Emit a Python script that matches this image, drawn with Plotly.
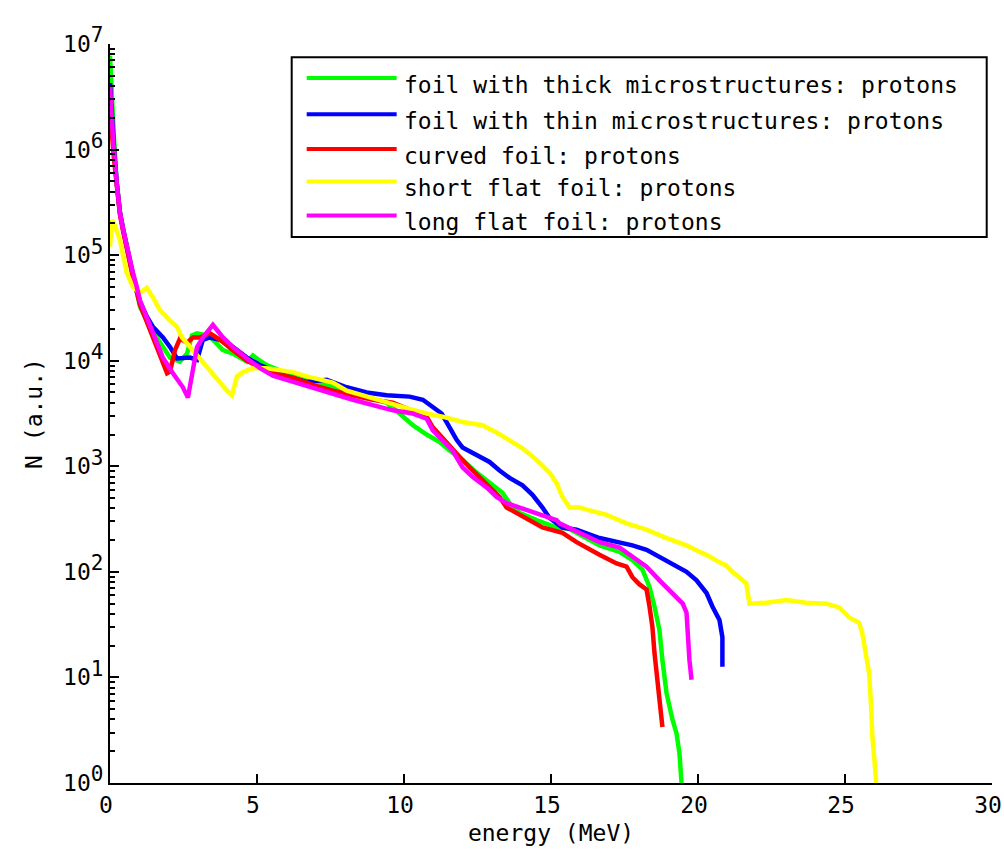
import plotly.graph_objects as go

# ---------------- data ----------------
series_names = [
    "foil with thick microstructures: protons",
    "foil with thin microstructures: protons",
    "curved foil: protons",
    "short flat foil: protons",
    "long flat foil: protons",
]
series_colors = ["#00ff00", "#0000ff", "#ff0000", "#ffff00", "#ff00ff"]

E_thick = [0.0, 0.05, 0.14, 0.23, 0.34, 0.45, 0.57, 0.68, 0.78, 0.91, 1.02, 1.36, 1.70, 2.04, 2.38,
           2.62, 2.79, 2.96, 3.30, 3.50, 3.84, 4.18, 4.66, 4.86, 5.10, 5.33, 6.01, 6.69, 7.37, 8.05,
           8.73, 9.41, 9.85, 10.30, 10.77, 11.21, 11.55, 11.99, 12.47, 12.91, 13.35, 13.59, 13.93,
           14.51, 15.19, 15.60, 15.97, 16.65, 17.33, 17.77, 18.11, 18.35, 18.52, 18.69, 18.79, 18.93,
           19.13, 19.27, 19.37, 19.44]
N_thick = [7.76e6, 3.55e6, 1.23e6, 4.79e5, 2.51e5, 1.74e5, 1.15e5, 8.5e4, 6.3e4, 4.57e4, 3.24e4,
           2.09e4, 1.48e4, 1.07e4, 9.8e3, 1.17e4, 1.74e4, 1.82e4, 1.74e4, 1.58e4, 1.26e4, 1.17e4,
           9.8e3, 1.12e4, 1.0e4, 9.1e3, 7.6e3, 6.9e3, 5.9e3, 5.2e3, 4.6e3, 4.0e3, 3.16e3, 2.45e3,
           2.0e3, 1.70e3, 1.41e3, 1.15e3, 871, 692, 562, 447, 363, 309, 263, 257, 224, 178, 155, 129,
           105, 72, 47, 28, 14.5, 7.1, 4.0, 2.95, 1.9, 1.0]

E_thin = [0.0, 0.05, 0.14, 0.23, 0.34, 0.45, 0.57, 0.68, 0.78, 0.91, 1.02, 1.25, 1.46, 1.80, 2.04,
          2.28, 2.48, 2.72, 2.96, 3.16, 3.40, 3.74, 4.18, 4.66, 5.10, 5.54, 6.01, 6.69, 7.37, 8.05,
          8.73, 9.41, 10.19, 10.64, 10.98, 11.28, 11.55, 11.79, 11.99, 12.47, 12.91, 13.25, 13.59,
          14.03, 14.37, 14.71, 14.95, 15.39, 15.87, 16.65, 17.33, 17.77, 18.25, 18.69, 19.13, 19.61,
          19.95, 20.29, 20.49, 20.73, 20.83, 20.83]
N_thin = [4.27e6, 2.24e6, 1.0e6, 4.79e5, 2.51e5, 1.74e5, 1.17e5, 8.7e4, 6.6e4, 4.79e4, 3.63e4,
          2.63e4, 2.09e4, 1.66e4, 1.35e4, 1.05e4, 1.07e4, 1.07e4, 1.02e4, 1.58e4, 1.66e4, 1.58e4,
          1.35e4, 1.07e4, 9.1e3, 8.1e3, 7.1e3, 6.3e3, 6.6e3, 5.6e3, 5.0e3, 4.7e3, 4.57e3, 4.27e3,
          3.63e3, 3.16e3, 2.34e3, 1.78e3, 1.51e3, 1.29e3, 1.10e3, 912, 776, 661, 537, 407, 324, 263,
          251, 209, 191, 178, 162, 138, 120, 100, 83, 63, 47, 35, 24, 12.6]

E_curved = [0.0, 0.05, 0.14, 0.23, 0.34, 0.45, 0.57, 0.68, 0.78, 0.91, 1.02, 1.25, 1.46, 1.70, 1.94,
            2.04, 2.21, 2.38, 2.62, 2.82, 3.06, 3.40, 3.74, 4.18, 4.66, 5.10, 5.54, 6.22, 6.90, 7.58,
            8.26, 8.94, 9.62, 10.30, 10.77, 10.98, 11.45, 11.89, 12.23, 12.57, 12.91, 13.25, 13.49,
            13.83, 14.27, 14.71, 15.39, 15.87, 16.65, 17.23, 17.57, 17.77, 18.01, 18.25, 18.35, 18.45,
            18.52, 18.62, 18.69, 18.79]
N_curved = [3.16e6, 1.58e6, 7.9e5, 4.17e5, 2.40e5, 1.66e5, 1.12e5, 8.3e4, 6.2e4, 4.47e4, 3.39e4,
            2.34e4, 1.66e4, 1.12e4, 7.6e3, 7.9e3, 1.26e4, 1.62e4, 1.48e4, 1.66e4, 1.66e4, 1.82e4,
            1.58e4, 1.26e4, 1.0e4, 8.7e3, 7.6e3, 6.9e3, 5.9e3, 5.2e3, 4.7e3, 4.27e3, 4.0e3, 3.39e3,
            2.95e3, 2.34e3, 1.66e3, 1.23e3, 977, 794, 631, 513, 407, 363, 309, 263, 234, 191, 145,
            120, 112, 89, 76, 68, 47, 30, 17, 9.5, 6.2, 3.4]

E_short = [0.0, 0.07, 0.14, 0.34, 0.57, 0.78, 1.02, 1.25, 1.46, 1.70, 2.04, 2.28, 2.45, 2.72, 3.06,
           3.30, 3.64, 3.98, 4.15, 4.32, 4.52, 4.86, 5.33, 5.78, 6.22, 6.69, 7.14, 7.58, 8.05, 8.73,
           9.41, 10.09, 10.77, 11.31, 11.99, 12.67, 13.15, 13.59, 14.03, 14.51, 14.95, 15.19, 15.39,
           15.63, 15.97, 16.21, 16.89, 17.57, 18.25, 18.93, 19.61, 20.05, 20.29, 20.73, 20.96, 21.17,
           21.41, 21.64, 21.75, 22.32, 23.00, 23.68, 24.36, 24.80, 25.14, 25.48, 25.59, 25.72, 25.82,
           25.89, 25.93, 26.00, 26.06]
N_short = [1.2e5, 2.14e5, 2.0e5, 1.38e5, 6.8e4, 5.0e4, 4.37e4, 4.9e4, 3.98e4, 3.02e4, 2.40e4, 2.09e4,
           1.66e4, 1.35e4, 1.05e4, 8.7e3, 6.6e3, 5.2e3, 4.7e3, 7.1e3, 7.8e3, 8.5e3, 8.5e3, 8.1e3,
           7.8e3, 7.1e3, 6.6e3, 6.2e3, 5.2e3, 4.57e3, 3.98e3, 3.55e3, 3.16e3, 2.95e3, 2.63e3, 2.45e3,
           2.09e3, 1.78e3, 1.48e3, 1.15e3, 871, 692, 513, 407, 407, 389, 347, 288, 251, 209, 178,
           155, 145, 123, 115, 100, 89, 78, 50, 51, 54, 51, 50, 46, 37, 33, 26, 17, 11, 5.2, 2.75,
           1.66, 1.0]

E_long = [0.0, 0.05, 0.10, 0.23, 0.34, 0.45, 0.57, 0.68, 0.78, 0.91, 1.02, 1.25, 1.46, 1.80, 2.14,
          2.48, 2.65, 2.82, 2.96, 3.16, 3.50, 3.84, 4.18, 4.66, 5.10, 5.54, 6.22, 6.90, 7.58, 8.26,
          8.94, 9.62, 10.30, 10.77, 10.98, 11.31, 11.65, 11.99, 12.33, 12.81, 13.15, 13.49, 13.93,
          14.51, 15.19, 15.29, 15.97, 16.65, 17.33, 17.77, 18.25, 18.69, 19.13, 19.48, 19.61, 19.64,
          19.71, 19.78]
N_long = [3.98e6, 2.0e6, 1.32e6, 4.79e5, 2.51e5, 1.74e5, 1.20e5, 8.9e4, 6.8e4, 5.0e4, 3.72e4, 2.57e4,
          1.82e4, 1.07e4, 7.6e3, 5.6e3, 4.47e3, 8.7e3, 1.35e4, 1.66e4, 2.19e4, 1.66e4, 1.35e4,
          1.05e4, 8.5e3, 7.2e3, 6.3e3, 5.6e3, 4.9e3, 4.27e3, 3.8e3, 3.39e3, 3.16e3, 2.82e3, 2.19e3,
          1.78e3, 1.41e3, 977, 794, 631, 513, 447, 407, 363, 309, 288, 234, 191, 170, 138, 112, 83,
          63, 50, 41, 26, 14.5, 9.5]

series_E = [E_thick, E_thin, E_curved, E_short, E_long]
series_N = [N_thick, N_thin, N_curved, N_short, N_long]

x_ticks = [0, 5, 10, 15, 20, 25, 30]
y_ticks = [1, 10, 100, 1000, 1e4, 1e5, 1e6, 1e7]
y_ticktext = ["10<sup><span style='font-size:21px'>%d</span></sup>" % k for k in range(8)]
y_minor = [m * 10 ** k for k in range(7) for m in range(2, 10)]

FONT = "DejaVu Sans Mono"

fig = go.Figure()
for name, E, N, col in zip(series_names, series_E, series_N, series_colors):
    fig.add_trace(go.Scatter(x=E, y=N, mode="lines", name=name,
                             line=dict(color=col, width=4.5), showlegend=False))

# manual legend (box, line samples, labels) in paper coordinates
L_X0, L_X1, L_Y0, L_Y1 = 0.206, 0.994, 0.739, 0.982
fig.add_shape(type="rect", xref="paper", yref="paper", x0=L_X0, x1=L_X1, y0=L_Y0, y1=L_Y1,
              line=dict(color="black", width=2), fillcolor="white", layer="above")
row_y = [0.954, 0.905, 0.858, 0.814, 0.768]
for name, col, ry in zip(series_names, series_colors, row_y):
    fig.add_shape(type="line", xref="paper", yref="paper", x0=0.223, x1=0.325, y0=ry, y1=ry,
                  line=dict(color=col, width=4), layer="above")
    fig.add_annotation(xref="paper", yref="paper", x=0.331, y=ry - 0.009, text=name,
                       showarrow=False, xanchor="left", yanchor="middle",
                       font=dict(family=FONT, size=23, color="black"))

fig.update_layout(
    width=1004, height=855,
    margin=dict(l=110, r=12, t=44, b=72),
    paper_bgcolor="white", plot_bgcolor="white",
    font=dict(family=FONT, size=23, color="black"),
    showlegend=False,
)
fig.update_xaxes(range=[0, 30], tickvals=x_ticks, ticks="inside", ticklen=9, tickwidth=2,
                 tickcolor="black", showline=True, linecolor="black", linewidth=2,
                 ticklabeloverflow="allow", automargin=False, ticklabelshift=-4,
                 showgrid=False, zeroline=False, mirror=False,
                 title=dict(text="energy (MeV)", standoff=8, font=dict(family=FONT, size=23)))
fig.update_yaxes(type="log", range=[0, 7], tickvals=y_ticks, ticktext=y_ticktext,
                 ticks="inside", ticklen=9, tickwidth=2, tickcolor="black",
                 showline=True, linecolor="black", linewidth=2, showgrid=False, zeroline=False,
                 ticklabeloverflow="allow", automargin=False,
                 minor=dict(tickvals=y_minor, ticks="inside", ticklen=5, tickwidth=2,
                            tickcolor="black", showgrid=False),
                 title=dict(text="N (a.u.)", standoff=14, font=dict(family=FONT, size=23)))

fig.write_html("out.html")
